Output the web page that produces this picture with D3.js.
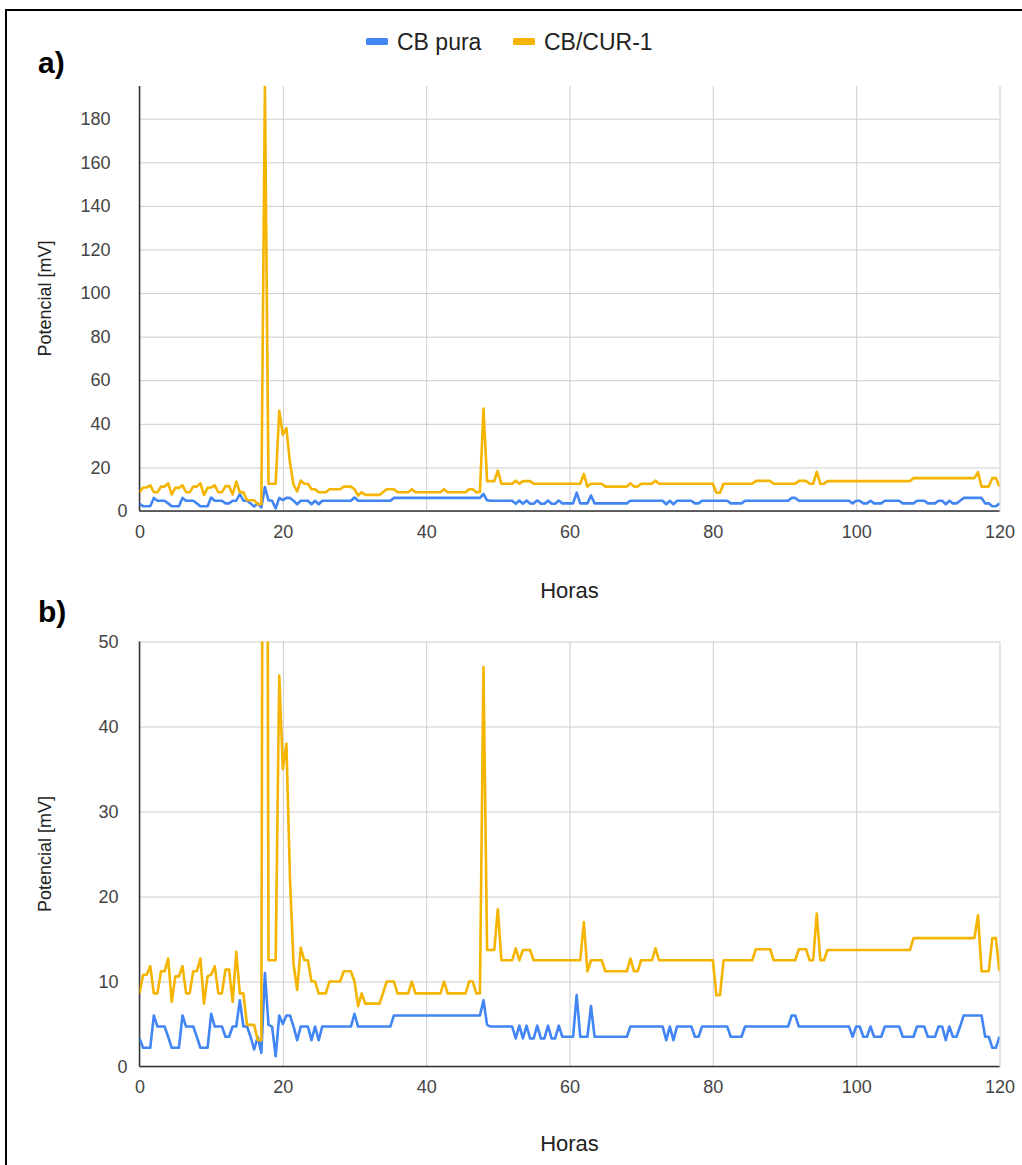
<!DOCTYPE html>
<html>
<head>
<meta charset="utf-8">
<script src="https://cdn.jsdelivr.net/npm/d3@7"></script>
<style>
  body { margin: 0; background: #fff; }
  svg text { font-family: "Liberation Sans", Arial, sans-serif; }
  .grid line { stroke: #cccccc; stroke-width: 1; }
  .grid .domain { display: none; }
  .tick-label text { fill: #444; font-size: 18px; }
</style>
</head>
<body>
<svg id="chart" width="1022" height="1165"></svg>
<script>
// lecturas cada media hora, de 0 a 120 h
const paso = 0.5

const cbPura = [
  3.3, 2.2, 2.2, 2.2, 6.0, 4.7, 4.7, 4.7, 3.5, 2.2,
  2.2, 2.2, 6.0, 4.7, 4.7, 4.7, 3.5, 2.2, 2.2, 2.2,
  6.2, 4.7, 4.7, 4.7, 3.5, 3.5, 4.7, 4.7, 7.8, 4.7,
  4.7, 3.5, 2.0, 3.5, 1.6, 11.0, 4.9, 4.7, 1.2, 6.0,
  5.0, 6.0, 6.0, 4.7, 3.1, 4.7, 4.7, 4.7, 3.1, 4.7,
  3.1, 4.7, 4.7, 4.7, 4.7, 4.7, 4.7, 4.7, 4.7, 4.7,
  6.2, 4.7, 4.7, 4.7, 4.7, 4.7, 4.7, 4.7, 4.7, 4.7,
  4.7, 6.0, 6.0, 6.0, 6.0, 6.0, 6.0, 6.0, 6.0, 6.0,
  6.0, 6.0, 6.0, 6.0, 6.0, 6.0, 6.0, 6.0, 6.0, 6.0,
  6.0, 6.0, 6.0, 6.0, 6.0, 6.0, 7.8, 4.9, 4.7, 4.7,
  4.7, 4.7, 4.7, 4.7, 4.7, 3.3, 4.8, 3.3, 4.8, 3.3,
  3.3, 4.8, 3.3, 3.3, 4.8, 3.3, 3.3, 4.8, 3.5, 3.5,
  3.5, 3.5, 8.4, 3.5, 3.5, 3.5, 7.1, 3.5, 3.5, 3.5,
  3.5, 3.5, 3.5, 3.5, 3.5, 3.5, 3.5, 4.7, 4.7, 4.7,
  4.7, 4.7, 4.7, 4.7, 4.7, 4.7, 4.7, 3.1, 4.7, 3.1,
  4.7, 4.7, 4.7, 4.7, 4.7, 3.5, 3.5, 4.7, 4.7, 4.7,
  4.7, 4.7, 4.7, 4.7, 4.7, 3.5, 3.5, 3.5, 3.5, 4.7,
  4.7, 4.7, 4.7, 4.7, 4.7, 4.7, 4.7, 4.7, 4.7, 4.7,
  4.7, 4.7, 6.0, 6.0, 4.7, 4.7, 4.7, 4.7, 4.7, 4.7,
  4.7, 4.7, 4.7, 4.7, 4.7, 4.7, 4.7, 4.7, 4.7, 3.5,
  4.7, 4.7, 3.5, 3.5, 4.7, 3.5, 3.5, 3.5, 4.7, 4.7,
  4.7, 4.7, 4.7, 3.5, 3.5, 3.5, 3.5, 4.7, 4.7, 4.7,
  3.5, 3.5, 3.5, 4.7, 4.7, 3.1, 4.7, 3.5, 3.5, 4.7,
  6.0, 6.0, 6.0, 6.0, 6.0, 6.0, 3.5, 3.5, 2.2, 2.2,
  3.5
]

const cbCur1 = [
  8.6, 10.8, 10.8, 11.8, 8.6, 8.6, 11.2, 11.2, 12.7, 7.6,
  10.6, 10.6, 11.8, 8.6, 8.6, 11.2, 11.2, 12.7, 7.4, 10.6,
  10.8, 11.8, 8.6, 8.6, 11.4, 11.4, 7.6, 13.5, 8.6, 8.6,
  4.9, 4.9, 4.9, 3.1, 3.1, 195, 12.5, 12.5, 12.5, 46,
  35, 38, 22, 12, 9, 14, 12.5, 12.5, 10, 10,
  8.6, 8.6, 8.6, 10, 10, 10, 10, 11.2, 11.2, 11.2,
  10, 7.1, 8.6, 7.4, 7.4, 7.4, 7.4, 7.4, 8.7, 10,
  10, 10, 8.6, 8.6, 8.6, 8.6, 10, 8.6, 8.6, 8.6,
  8.6, 8.6, 8.6, 8.6, 8.6, 10, 8.6, 8.6, 8.6, 8.6,
  8.6, 8.6, 10, 10, 8.6, 8.6, 47, 13.7, 13.7, 13.7,
  18.5, 12.5, 12.5, 12.5, 12.5, 13.9, 12.5, 13.7, 13.7, 13.7,
  12.5, 12.5, 12.5, 12.5, 12.5, 12.5, 12.5, 12.5, 12.5, 12.5,
  12.5, 12.5, 12.5, 12.5, 17, 11.2, 12.5, 12.5, 12.5, 12.5,
  11.2, 11.2, 11.2, 11.2, 11.2, 11.2, 11.2, 12.7, 11.2, 11.2,
  12.5, 12.5, 12.5, 12.5, 13.9, 12.5, 12.5, 12.5, 12.5, 12.5,
  12.5, 12.5, 12.5, 12.5, 12.5, 12.5, 12.5, 12.5, 12.5, 12.5,
  12.5, 8.4, 8.4, 12.5, 12.5, 12.5, 12.5, 12.5, 12.5, 12.5,
  12.5, 12.5, 13.8, 13.8, 13.8, 13.8, 13.8, 12.5, 12.5, 12.5,
  12.5, 12.5, 12.5, 12.5, 13.8, 13.8, 13.8, 12.5, 12.5, 18,
  12.5, 12.5, 13.7, 13.7, 13.7, 13.7, 13.7, 13.7, 13.7, 13.7,
  13.7, 13.7, 13.7, 13.7, 13.7, 13.7, 13.7, 13.7, 13.7, 13.7,
  13.7, 13.7, 13.7, 13.7, 13.7, 13.7, 15.1, 15.1, 15.1, 15.1,
  15.1, 15.1, 15.1, 15.1, 15.1, 15.1, 15.1, 15.1, 15.1, 15.1,
  15.1, 15.1, 15.1, 15.1, 17.8, 11.2, 11.2, 11.2, 15.1, 15.1,
  11.2
]

const seriesNames = ['CB pura', 'CB/CUR-1']
const seriesColors = ['#4285f4', '#f4b400']

const xTicks = [0, 20, 40, 60, 80, 100, 120]
const yTicksA = [0, 20, 40, 60, 80, 100, 120, 140, 160, 180]
const yTicksB = [0, 10, 20, 30, 40, 50]

const svg = d3.select('#chart')
const plotLeft = 139.5
const plotWidth = 860

const x = d3.scaleLinear().domain([0, 120]).range([plotLeft, plotLeft + plotWidth])

// marco negro de la figura (izquierda y arriba)
svg.append('path')
  .attr('d', 'M6,1165 V10 H1022')
  .attr('fill', 'none')
  .attr('stroke', '#000')
  .attr('stroke-width', 2)

/**
 * Dibuja un panel del gráfico con su propia escala vertical.
 */
function drawPanel (id, top, height, yMax, yTicks, labelPad, letter, letterY, titleY) {
  const bottom = top + height
  const y = d3.scaleLinear().domain([0, yMax]).range([bottom, top])
  const g = svg.append('g').attr('class', 'panel-' + id)

  g.append('clipPath').attr('id', 'clip-' + id)
    .append('rect')
    .attr('x', plotLeft).attr('y', top)
    .attr('width', plotWidth).attr('height', height)

  // rejilla horizontal
  g.append('g')
    .attr('class', 'grid')
    .attr('transform', `translate(${plotLeft},0)`)
    .call(d3.axisLeft(y).tickValues(yTicks).tickSize(-plotWidth).tickFormat(''))

  // rejilla vertical
  g.append('g')
    .attr('class', 'grid')
    .attr('transform', `translate(0,${bottom})`)
    .call(d3.axisBottom(x).tickValues(xTicks).tickSize(height).tickFormat(''))
    .selectAll('line').attr('y2', -height)

  // etiquetas de los ejes
  g.append('g')
    .attr('class', 'tick-label')
    .attr('transform', `translate(${plotLeft},0)`)
    .call(d3.axisLeft(y).tickValues(yTicks).tickSize(0).tickPadding(labelPad))
    .call(a => a.select('.domain').remove())
    .call(a => a.selectAll('.tick').filter(d => d === 0).select('text').attr('x', -12))

  g.append('g')
    .attr('class', 'tick-label')
    .attr('transform', `translate(0,${bottom})`)
    .call(d3.axisBottom(x).tickValues(xTicks).tickSize(0).tickPadding(14))
    .call(a => a.select('.domain').remove())

  // líneas base
  g.append('line')
    .attr('x1', plotLeft).attr('x2', plotLeft + plotWidth)
    .attr('y1', bottom).attr('y2', bottom)
    .attr('stroke', '#333').attr('stroke-width', 1.5)
  g.append('line')
    .attr('x1', plotLeft).attr('x2', plotLeft)
    .attr('y1', top).attr('y2', bottom)
    .attr('stroke', '#333').attr('stroke-width', 1.5)

  const line = d3.line()
    .x((d, i) => x(i * paso))
    .y(d => y(d))

  const lines = g.append('g').attr('clip-path', `url(#clip-${id})`)
  ;[cbPura, cbCur1].forEach((values, k) => {
    lines.append('path')
      .datum(values)
      .attr('fill', 'none')
      .attr('stroke', seriesColors[k])
      .attr('stroke-width', 2.6)
      .attr('stroke-linejoin', 'round')
      .attr('d', line)
  })

  g.append('text')
    .text('Horas')
    .attr('x', plotLeft + plotWidth / 2)
    .attr('y', titleY)
    .attr('text-anchor', 'middle')
    .attr('font-size', 22)
    .attr('fill', '#222')

  g.append('text')
    .text('Potencial [mV]')
    .attr('transform', `translate(51,${top + height / 2}) rotate(-90)`)
    .attr('text-anchor', 'middle')
    .attr('font-size', 18)
    .attr('fill', '#222')

  g.append('text')
    .text(letter)
    .attr('x', 38)
    .attr('y', letterY)
    .attr('font-size', 30)
    .attr('font-weight', 'bold')
    .attr('fill', '#000')
}

drawPanel('a', 86, 425, 195, yTicksA, 29, 'a)', 73, 598)
drawPanel('b', 641.5, 425, 50, yTicksB, 21, 'b)', 622, 1151)

// leyenda
const legend = svg.append('g').attr('class', 'legend')
const legendX = [366, 513]
seriesNames.forEach((name, k) => {
  legend.append('rect')
    .attr('x', legendX[k]).attr('y', 38)
    .attr('width', 22).attr('height', 7)
    .attr('rx', 1.5)
    .attr('fill', seriesColors[k])
  legend.append('text')
    .text(name)
    .attr('x', legendX[k] + 31)
    .attr('y', 50)
    .attr('font-size', 23)
    .attr('fill', '#222')
})
</script>
</body>
</html>
